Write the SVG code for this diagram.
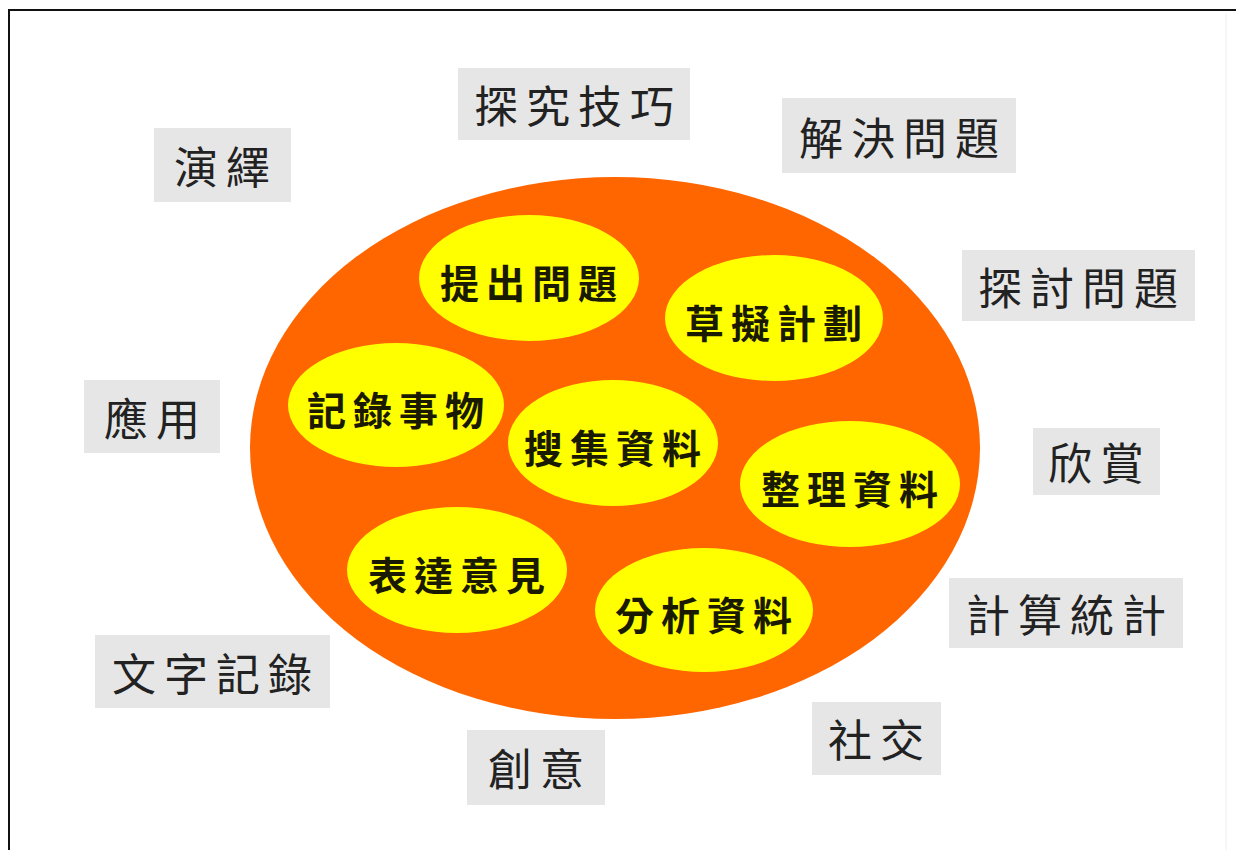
<svg xmlns="http://www.w3.org/2000/svg" width="1236" height="850" viewBox="0 0 1236 850">
<style>
.box{fill:#e6e6e6}
.lbl{font-family:"Noto Sans CJK TC","Noto Sans CJK SC",sans-serif;font-size:44px;fill:#222;letter-spacing:8px;text-anchor:middle;dominant-baseline:central}
.yel{fill:#ffff00}
.in{font-family:"Noto Sans CJK TC","Noto Sans CJK SC",sans-serif;font-size:39px;font-weight:bold;fill:#1a1a00;letter-spacing:7px;text-anchor:middle;dominant-baseline:central}
</style>
<rect width="1236" height="850" fill="#ffffff"/>
<g id="frame">
<line x1="9" y1="10" x2="1236" y2="10" stroke="#111" stroke-width="2"/>
<line x1="9" y1="9" x2="9" y2="850" stroke="#111" stroke-width="2"/>
<line x1="1226" y1="14" x2="1226" y2="850" stroke="#eeeeee" stroke-width="1"/>
</g>
<g id="connectors"/>
<g id="core">
<ellipse cx="615" cy="448" rx="365" ry="271" fill="#ff6600"/>
</g>
<g id="n-tichu"><ellipse class="yel" cx="529" cy="278" rx="110" ry="63"/><text class="in" x="532" y="281">提出問題</text></g>
<g id="n-caoni"><ellipse class="yel" cx="774" cy="318" rx="109" ry="63"/><text class="in" x="777" y="321">草擬計劃</text></g>
<g id="n-jilu"><ellipse class="yel" cx="396" cy="405" rx="108" ry="62"/><text class="in" x="399" y="408">記錄事物</text></g>
<g id="n-souji"><ellipse class="yel" cx="613" cy="443" rx="105" ry="63"/><text class="in" x="616" y="446">搜集資料</text></g>
<g id="n-zhengli"><ellipse class="yel" cx="850" cy="484" rx="110" ry="63"/><text class="in" x="853" y="487">整理資料</text></g>
<g id="n-biaoda"><ellipse class="yel" cx="457" cy="570" rx="110" ry="63"/><text class="in" x="460" y="573">表達意見</text></g>
<g id="n-fenxi"><ellipse class="yel" cx="704" cy="610" rx="109" ry="62"/><text class="in" x="707" y="613">分析資料</text></g>
<g id="l-tanjiu"><rect class="box" x="458" y="68" width="232" height="72"/><text class="lbl" x="578" y="104">探究技巧</text></g>
<g id="l-jiejue"><rect class="box" x="782" y="98" width="234" height="75"/><text class="lbl" x="903" y="136">解決問題</text></g>
<g id="l-yanyi"><rect class="box" x="154" y="128" width="137" height="74"/><text class="lbl" x="226" y="165">演繹</text></g>
<g id="l-tantao"><rect class="box" x="962" y="250" width="233" height="71"/><text class="lbl" x="1082" y="286">探討問題</text></g>
<g id="l-yingyong"><rect class="box" x="84" y="380" width="136" height="73"/><text class="lbl" x="156" y="417">應用</text></g>
<g id="l-xinshang"><rect class="box" x="1033" y="428" width="127" height="67"/><text class="lbl" x="1100" y="461">欣賞</text></g>
<g id="l-jisuan"><rect class="box" x="949" y="578" width="234" height="70"/><text class="lbl" x="1070" y="613">計算統計</text></g>
<g id="l-wenzi"><rect class="box" x="95" y="635" width="235" height="73"/><text class="lbl" x="216" y="672">文字記錄</text></g>
<g id="l-chuangyi"><rect class="box" x="467" y="730" width="138" height="75"/><text class="lbl" x="540" y="767">創意</text></g>
<g id="l-shejiao"><rect class="box" x="812" y="702" width="129" height="73"/><text class="lbl" x="880" y="738">社交</text></g>
</svg>
